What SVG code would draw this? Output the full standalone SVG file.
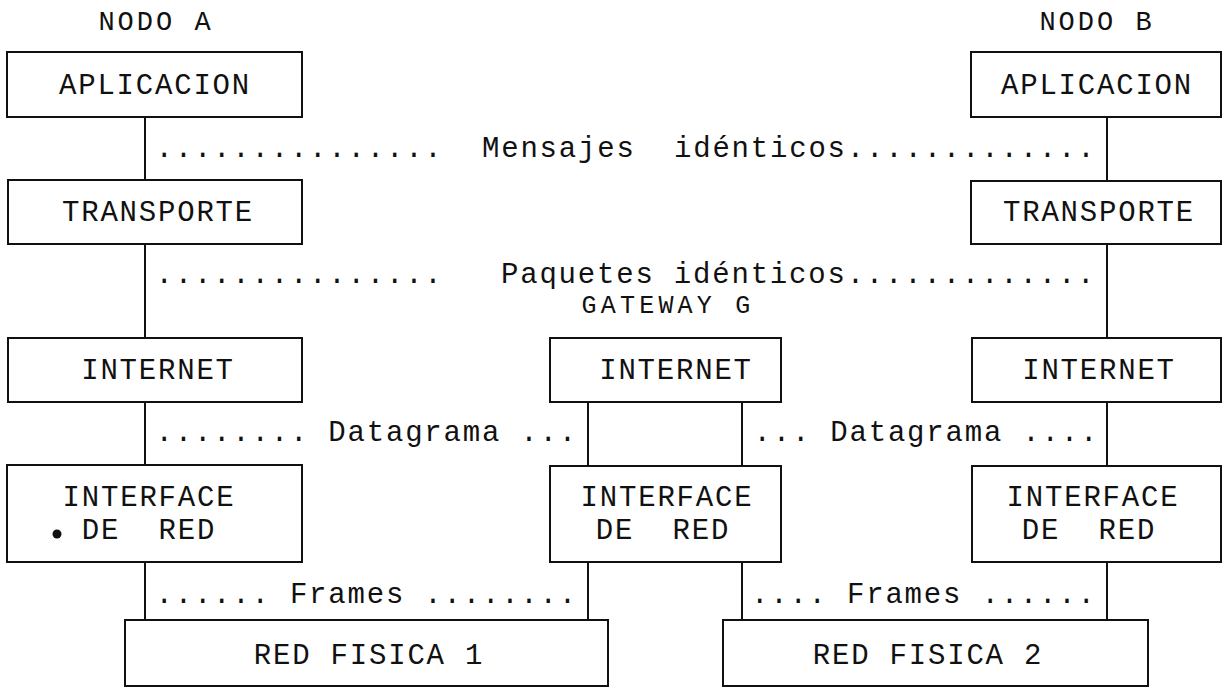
<svg xmlns="http://www.w3.org/2000/svg" width="1226" height="691" viewBox="0 0 1226 691">
<style>
  .box { fill: #ffffff; stroke: #111111; stroke-width: 2; }
  .t { font-family: "Liberation Mono", "Courier New", monospace; font-size: 29px; letter-spacing: 1.8px; fill: #111111; white-space: pre; }
  .sm { font-size: 25px; letter-spacing: 4.2px; }
  .hd { font-size: 27px; letter-spacing: 3px; }
  .c { text-anchor: middle; }
  .ln { stroke: #111111; stroke-width: 2; fill: none; }
</style>
<rect width="1226" height="691" fill="#ffffff"/>

<g id="headers">
  <text class="t hd c" x="156" y="30">NODO A</text>
  <text class="t hd c" x="1097" y="30">NODO B</text>
  <text class="t sm c" x="668" y="313">GATEWAY G</text>
</g>

<g id="connectors">
  <line class="ln" x1="145" y1="117" x2="145" y2="180"/>
  <line class="ln" x1="145" y1="244" x2="145" y2="338"/>
  <line class="ln" x1="145" y1="402" x2="145" y2="465"/>
  <line class="ln" x1="145" y1="562" x2="145" y2="620"/>
  <line class="ln" x1="1107" y1="117" x2="1107" y2="181"/>
  <line class="ln" x1="1107" y1="244" x2="1107" y2="338"/>
  <line class="ln" x1="1107" y1="402" x2="1107" y2="466"/>
  <line class="ln" x1="1107" y1="562" x2="1107" y2="620"/>
  <line class="ln" x1="588" y1="402" x2="588" y2="466"/>
  <line class="ln" x1="742" y1="402" x2="742" y2="466"/>
  <line class="ln" x1="588" y1="562" x2="588" y2="620"/>
  <line class="ln" x1="742" y1="562" x2="742" y2="620"/>
</g>

<g id="labels">
  <text class="t" x="155.5" y="157" xml:space="preserve">...............</text>
  <text class="t" x="482" y="157" xml:space="preserve">Mensajes</text>
  <text class="t" x="674" y="157" xml:space="preserve">idénticos.............</text>
  <text class="t" x="155.5" y="283" xml:space="preserve">...............</text>
  <text class="t" x="501" y="283" xml:space="preserve">Paquetes idénticos.............</text>
  <text class="t" x="155.5" y="441" xml:space="preserve">........ Datagrama ...</text>
  <text class="t" x="753.5" y="441" xml:space="preserve">... Datagrama ....</text>
  <text class="t" x="155.5" y="603" xml:space="preserve">...... Frames ........</text>
  <text class="t" x="751" y="603" xml:space="preserve">.... Frames ......</text>
</g>

<g id="aplicacion-a">
  <rect class="box" x="7" y="52" width="295" height="65"/>
  <text class="t c" x="155" y="94">APLICACION</text>
</g>
<g id="transporte-a">
  <rect class="box" x="8" y="180" width="294" height="64"/>
  <text class="t c" x="158" y="221">TRANSPORTE</text>
</g>
<g id="internet-a">
  <rect class="box" x="8" y="338" width="294" height="64"/>
  <text class="t c" x="158" y="379">INTERNET</text>
</g>
<g id="interface-a">
  <rect class="box" x="7" y="465" width="295" height="97"/>
  <text class="t c" x="149" y="506">INTERFACE</text>
  <text class="t c" x="149" y="539" xml:space="preserve">DE  RED</text>
  <circle cx="57" cy="534" r="4.5" fill="#111111"/>
</g>

<g id="aplicacion-b">
  <rect class="box" x="971" y="52" width="250" height="65"/>
  <text class="t c" x="1097" y="94">APLICACION</text>
</g>
<g id="transporte-b">
  <rect class="box" x="971" y="181" width="250" height="63"/>
  <text class="t c" x="1099" y="221">TRANSPORTE</text>
</g>
<g id="internet-b">
  <rect class="box" x="972" y="338" width="249" height="64"/>
  <text class="t c" x="1099" y="379">INTERNET</text>
</g>
<g id="interface-b">
  <rect class="box" x="972" y="466" width="249" height="96"/>
  <text class="t c" x="1093" y="506">INTERFACE</text>
  <text class="t c" x="1089" y="539" xml:space="preserve">DE  RED</text>
</g>

<g id="internet-g">
  <rect class="box" x="550" y="338" width="231" height="64"/>
  <text class="t c" x="676" y="379">INTERNET</text>
</g>
<g id="interface-g">
  <rect class="box" x="550" y="466" width="231" height="96"/>
  <text class="t c" x="667" y="506">INTERFACE</text>
  <text class="t c" x="663" y="539" xml:space="preserve">DE  RED</text>
</g>

<g id="red-fisica-1">
  <rect class="box" x="125" y="620" width="483" height="66"/>
  <text class="t c" x="369" y="664">RED FISICA 1</text>
</g>
<g id="red-fisica-2">
  <rect class="box" x="723" y="620" width="425" height="66"/>
  <text class="t c" x="928" y="664">RED FISICA 2</text>
</g>
</svg>
